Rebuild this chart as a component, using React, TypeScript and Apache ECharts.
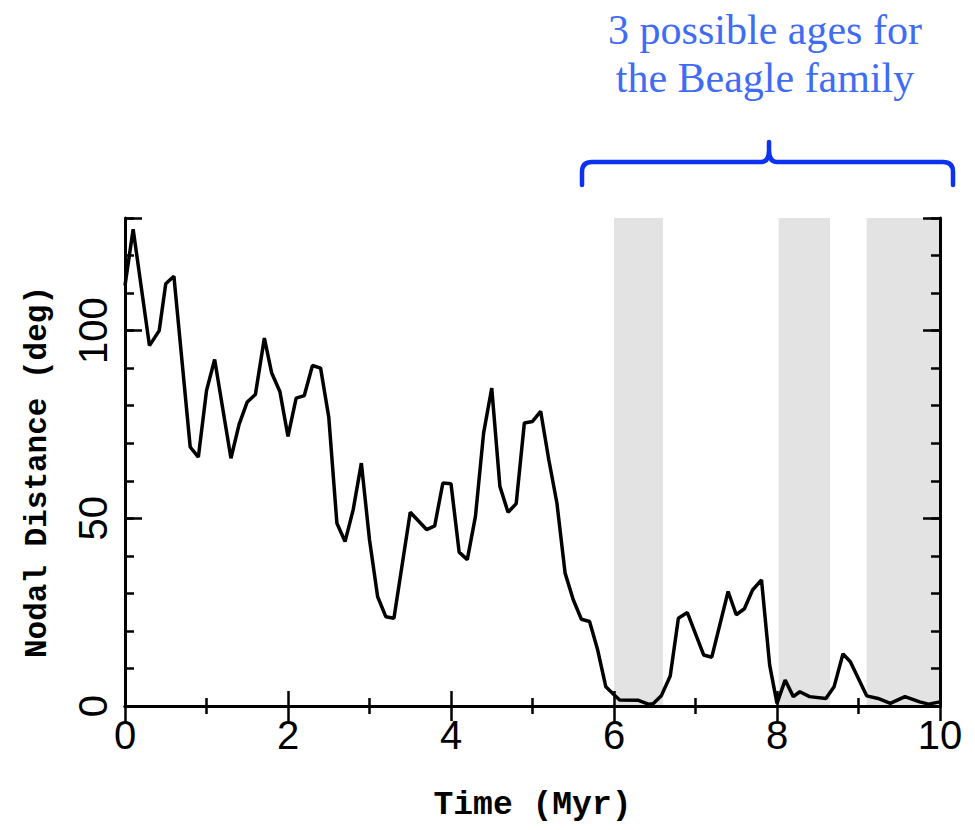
import React, { useEffect, useRef } from "react";
import * as echarts from "echarts";

const times = [0, 0.1, 0.3, 0.42, 0.5, 0.6, 0.8, 0.9, 1.0, 1.1, 1.3, 1.4, 1.5, 1.6, 1.71, 1.8, 1.9, 2.0, 2.1, 2.2, 2.3, 2.4, 2.5, 2.6, 2.7, 2.8, 2.9, 3.0, 3.1, 3.2, 3.3, 3.5, 3.7, 3.8, 3.9, 4.0, 4.1, 4.2, 4.3, 4.4, 4.5, 4.6, 4.7, 4.8, 4.9, 5.0, 5.1, 5.2, 5.3, 5.4, 5.5, 5.6, 5.7, 5.8, 5.9, 6.0, 6.07, 6.3, 6.42, 6.48, 6.58, 6.69, 6.79, 6.9, 7.1, 7.2, 7.4, 7.5, 7.6, 7.7, 7.81, 7.91, 8.0, 8.1, 8.2, 8.28, 8.4, 8.6, 8.7, 8.81, 8.9, 9.1, 9.24, 9.39, 9.57, 9.75, 9.86, 10];
const nodalDistance = [112, 127, 96, 100, 112.5, 114.5, 69, 66.3, 84, 92.3, 66, 75, 81, 83, 98, 88.7, 83.8, 71.8, 82, 82.7, 90.7, 90, 77, 48.7, 43.8, 52.3, 64.7, 44.3, 29.1, 23.8, 23.4, 51.6, 47, 48, 59.4, 59.2, 41, 39, 50.5, 72.7, 84.7, 58.5, 51.6, 53.9, 75.4, 75.8, 78.5, 65.6, 54, 35.4, 28.3, 23.1, 22.5, 14.9, 5.1, 3, 1.6, 1.5, 0.5, 0.6, 2.7, 8, 23.4, 24.9, 13.6, 13, 30.5, 24.3, 25.9, 30.9, 33.6, 10.9, 0.7, 6.9, 2.5, 3.8, 2.5, 2.0, 5.1, 13.9, 11.8, 2.7, 2.0, 0.7, 2.5, 1.1, 0.5, 1.1];
const ageBandStarts = [6.0, 8.02, 9.1];
const ageBandEnds = [6.6, 8.65, 10];
const xTickLabels = ["0", "2", "4", "6", "8", "10"];
const yTickLabels = ["0", "50", "100"];
const annotationLines = ["3 possible ages for", "the Beagle family"];

const BRACE =
  "M582,185 L582,172 Q582,162 592,162 L761,162 Q769,162 769,150 L769,142 M769,150 Q769,162 777,162 L943,162 Q953,162 953,172 L953,185";

export default function App() {
  const ref = useRef<HTMLDivElement>(null);
  useEffect(() => {
    if (!ref.current) return;
    try {
      echarts.graphic.registerShape("brace", echarts.graphic.extendPath(BRACE, {}));
    } catch (e) {}
    const chart = echarts.init(ref.current, null, { renderer: "svg" });
    const data = times.map((t, i) => [t, nodalDistance[i]]);
    const bands = ageBandStarts.map((s, i) => [{ xAxis: s }, { xAxis: ageBandEnds[i] }]);
    const axisTextX = (v: number) => (xTickLabels.includes(String(v)) ? String(v) : "");
    const axisTextY = (v: number) => (yTickLabels.includes(String(v)) ? String(v) : "");
    const black = "#000";
    chart.setOption({
      animation: false,
      backgroundColor: "#fff",
      grid: { left: 125, right: 35, top: 218, bottom: 124 },
      xAxis: [
        {
          type: "value", position: "bottom", min: 0, max: 10, interval: 2, z: 10,
          axisLine: { show: true, lineStyle: { color: black, width: 3 } },
          axisTick: { show: true, inside: true, length: 15, lineStyle: { color: black, width: 2.5 } },
          minorTick: { show: true, splitNumber: 2, length: 8, lineStyle: { color: black, width: 2.5 } },
          splitLine: { show: false },
          axisLabel: { color: black, fontSize: 40, fontFamily: "Liberation Sans", margin: 9, formatter: axisTextX },
          name: "Time (Myr)", nameLocation: "middle", nameGap: 83,
          nameTextStyle: { color: black, fontSize: 33, fontWeight: "bold", fontFamily: "Liberation Mono" },
        },
        {
          type: "value", position: "top", min: 0, max: 10, interval: 2, z: 10,
          axisLine: { show: true, lineStyle: { color: black, width: 3 } },
          axisTick: { show: true, inside: true, length: 15, lineStyle: { color: black, width: 2.5 } },
          minorTick: { show: true, splitNumber: 2, length: 8, lineStyle: { color: black, width: 2.5 } },
          splitLine: { show: false },
          axisLabel: { show: false },
        },
      ],
      yAxis: [
        {
          type: "value", position: "left", min: 0, max: 130, interval: 50, z: 10,
          axisLine: { show: true, lineStyle: { color: black, width: 3 } },
          axisTick: { show: true, inside: true, length: 17, lineStyle: { color: black, width: 2.5 } },
          splitLine: { show: false },
          axisLabel: { color: black, fontSize: 40, fontFamily: "Liberation Sans", margin: 12, rotate: 90, formatter: axisTextY },
          name: "Nodal Distance (deg)", nameLocation: "middle", nameGap: 72,
          nameTextStyle: { color: black, fontSize: 31, fontWeight: "bold", fontFamily: "Liberation Mono", padding: [0, 20, 0, 0] },
        },
        {
          type: "value", position: "left", min: 0, max: 130, interval: 10, z: 10,
          axisLine: { show: false },
          axisTick: { show: true, inside: true, length: 9, lineStyle: { color: black, width: 2.5 } },
          splitLine: { show: false },
          axisLabel: { show: false },
        },
        {
          type: "value", position: "right", min: 0, max: 130, interval: 50, z: 10,
          axisLine: { show: true, lineStyle: { color: black, width: 3 } },
          axisTick: { show: true, inside: true, length: 17, lineStyle: { color: black, width: 2.5 } },
          splitLine: { show: false },
          axisLabel: { show: false },
        },
        {
          type: "value", position: "right", min: 0, max: 130, interval: 10, z: 10,
          axisLine: { show: false },
          axisTick: { show: true, inside: true, length: 9, lineStyle: { color: black, width: 2.5 } },
          splitLine: { show: false },
          axisLabel: { show: false },
        },
      ],
      series: [
        {
          type: "line",
          xAxisIndex: 0,
          yAxisIndex: 0,
          data,
          showSymbol: false,
          lineStyle: { color: black, width: 3.5 },
          markArea: {
            silent: true,
            itemStyle: { color: "#e3e3e3" },
            data: bands,
          },
        },
      ],
      graphic: [
        {
          type: "text",
          x: 765,
          y: 6,
          style: {
            text: annotationLines.join("\n"),
            fill: "#3f6cf4",
            font: "42px 'Liberation Serif'",
            lineHeight: 48,
            align: "center",
            verticalAlign: "top",
          },
        },
        {
          type: "brace",
          x: 0,
          y: 0,
          style: { stroke: "#0a32f0", lineWidth: 4.5, fill: "none", lineCap: "round", lineJoin: "round" },
        },
      ],
    });
    return () => chart.dispose();
  }, []);
  return (
    <div
      ref={ref}
      style={{ position: "fixed", left: 0, top: 0, width: 975, height: 830, background: "#fff" }}
    />
  );
}
